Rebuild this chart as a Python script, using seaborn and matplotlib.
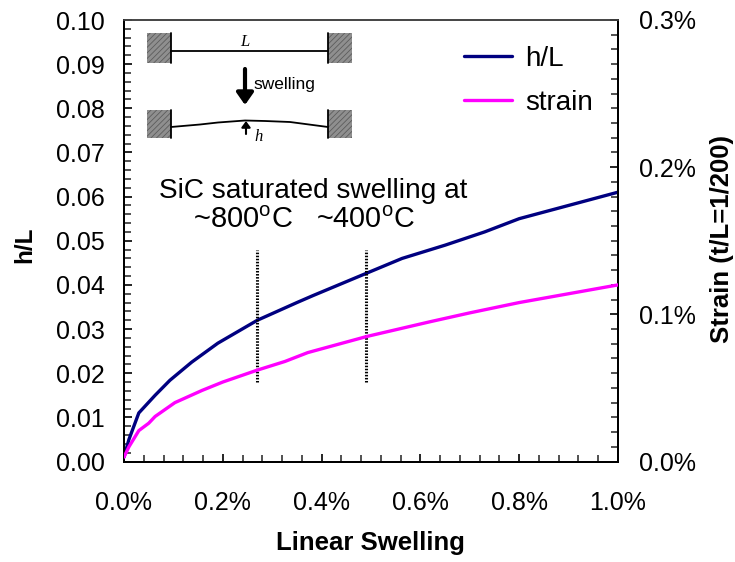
import numpy as np
import pandas as pd
import matplotlib
matplotlib.use('Agg')
import matplotlib.pyplot as plt
from matplotlib.lines import Line2D
from matplotlib.patches import Rectangle
from matplotlib.ticker import FuncFormatter, MultipleLocator
import seaborn as sns

# values
swelling_hl = [0.0, 0.01, 0.03, 0.063, 0.093, 0.137, 0.19, 0.27, 0.35, 0.383, 0.49, 0.563, 0.65, 0.73, 0.80, 0.90, 1.00]
h_over_l = [0.001, 0.005, 0.011, 0.015, 0.0184, 0.0225, 0.0268, 0.032, 0.0360, 0.0376, 0.0426, 0.0460, 0.0490, 0.0520, 0.0550, 0.0580, 0.0610]
swelling_strain = [0.0, 0.01, 0.03, 0.05, 0.063, 0.103, 0.158, 0.20, 0.269, 0.326, 0.372, 0.492, 0.62, 0.70, 0.80, 0.90, 1.00]
strain_pct = [0.003, 0.010, 0.021, 0.026, 0.0306, 0.040, 0.0483, 0.054, 0.062, 0.068, 0.074, 0.085, 0.095, 0.101, 0.108, 0.114, 0.120]
saturation_x = [0.27, 0.49]
saturation_y = [0.018, 0.048]

sns.set_theme(style='ticks')
plt.rcParams['font.family'] = ['Liberation Sans', 'DejaVu Sans']
plt.rcParams['text.color'] = 'black'
plt.rcParams['mathtext.fontset'] = 'custom'
plt.rcParams['mathtext.rm'] = 'Liberation Sans'
plt.rcParams['mathtext.default'] = 'regular'
plt.rcParams['hatch.linewidth'] = 0.6

df_hl = pd.DataFrame({'swelling': swelling_hl, 'value': h_over_l})
df_strain = pd.DataFrame({'swelling': swelling_strain, 'value': strain_pct})

fig = plt.figure(figsize=(7.35, 5.62), dpi=100)
ax = fig.add_axes([124 / 735, 1 - 461.5 / 562, 494 / 735, 441.5 / 562])
ax2 = ax.twinx()

sns.lineplot(data=df_hl, x='swelling', y='value', ax=ax, color='#000080', lw=2.4, zorder=3)
sns.lineplot(data=df_strain, x='swelling', y='value', ax=ax2, color='#FF00FF', lw=2.4, zorder=3)

for x0 in saturation_x:
    ax.plot([x0, x0], saturation_y, color='black', lw=2.2, ls=(0, (0.5, 0.5)), zorder=4)

ax.set_xlim(0, 1.0)
ax.set_ylim(0, 0.10)
ax2.set_ylim(0, 0.3)

ax.xaxis.set_major_locator(MultipleLocator(0.2))
ax.xaxis.set_minor_locator(MultipleLocator(0.04))
ax.yaxis.set_major_locator(MultipleLocator(0.01))
ax.yaxis.set_minor_locator(MultipleLocator(0.002))
ax2.yaxis.set_major_locator(MultipleLocator(0.1))
ax2.yaxis.set_minor_locator(MultipleLocator(0.01))
ax.xaxis.set_major_formatter(FuncFormatter(lambda v, p: f'{v:.1f}%'))
ax.yaxis.set_major_formatter(FuncFormatter(lambda v, p: f'{v:.2f}'))
ax2.yaxis.set_major_formatter(FuncFormatter(lambda v, p: f'{v:.1f}%'))

ax.tick_params(axis='x', which='major', direction='in', length=6, width=1.2, pad=21.5, labelsize=18, colors='black')
ax.tick_params(axis='y', which='major', direction='in', length=6, width=1.2, pad=14, labelsize=18, colors='black')
ax.tick_params(which='minor', direction='in', length=5, width=1.1, color='#222222')
ax2.tick_params(axis='y', which='major', direction='in', length=6, width=1.2, pad=15, labelsize=18, colors='black')
ax2.tick_params(which='minor', direction='in', length=5, width=1.1, color='#222222')

for a in (ax, ax2):
    for side in a.spines:
        a.spines[side].set_visible(True)
        a.spines[side].set_color('black')
        a.spines[side].set_linewidth(1.4)
    a.spines['top'].set_color('#444444')
    a.spines['top'].set_linewidth(1.2)

ax.set_xlabel('')
ax.set_ylabel('')
ax2.set_ylabel('')
fig.text(370 / 735, 1 - 543 / 562, 'Linear Swelling', fontsize=18.5, fontweight='bold', ha='center', va='center')
fig.text(25 / 735, 1 - 245 / 562, 'h/L', fontsize=17.5, fontweight='bold', rotation=90, ha='center', va='center')
fig.text(722 / 735, 1 - 239 / 562, 'Strain (t/L=1/200)', fontsize=18.5, fontweight='bold', rotation=90, ha='center', va='center')

# overlay in pixel coordinates for the sketch and the notes
ov = fig.add_axes([0, 0, 1, 1], zorder=5)
ov.set_xlim(0, 735)
ov.set_ylim(562, 0)
ov.axis('off')
ov.patch.set_alpha(0)

for x0, y0, h in [(147, 33, 30), (328, 33, 30), (147, 110, 28), (328, 110, 28)]:
    ov.add_patch(Rectangle((x0, y0), 24, h, facecolor='#8f8f8f', edgecolor='#5c5c5c', hatch='//////', lw=0))
ov.plot([171, 171], [33, 63], color='black', lw=1.3)
ov.plot([328, 328], [33, 63], color='black', lw=1.3)
ov.plot([171, 171], [110, 138], color='black', lw=1.3)
ov.plot([328, 328], [110, 138], color='black', lw=1.3)
ov.plot([171, 328], [51, 51], color='black', lw=1.3)
ov.plot([171, 200, 218, 245, 265, 290, 328], [127, 124.5, 122.5, 120.5, 121, 122, 127], color='black', lw=1.3)
ov.annotate('', xy=(245, 105), xytext=(245, 69),
            arrowprops=dict(arrowstyle='-|>,head_width=0.42,head_length=0.6', color='black', lw=3, shrinkA=0, shrinkB=0))
ov.annotate('', xy=(246, 121), xytext=(246, 134),
            arrowprops=dict(arrowstyle='-|>,head_width=0.22,head_length=0.3', color='black', lw=1.5, shrinkA=0, shrinkB=0))
ov.text(245, 42, 'L', family='Liberation Serif', style='italic', fontsize=12, ha='center', va='center')
ov.text(259, 137, 'h', family='Liberation Serif', style='italic', fontsize=12, ha='center', va='center')
ov.text(253, 85, 'swelling', fontsize=12.5, ha='left', va='center')

ov.text(159, 191, 'SiC saturated swelling at', fontsize=20.2, ha='left', va='center')
ov.text(193, 220, r'~800$^{o}$C', fontsize=21, ha='left', va='center')
ov.text(316, 220, r'~400$^{o}$C', fontsize=20.7, ha='left', va='center')

# legend drawn from the two line colours
handles = [Line2D([0], [0], color='#000080', lw=2.4), Line2D([0], [0], color='#FF00FF', lw=2.4)]
ov.legend(handles, ['h/L', 'strain'], loc='upper left', bbox_to_anchor=(464 / 735, 1 - 46 / 562),
          frameon=False, fontsize=20, handlelength=1.73, handletextpad=0.47, labelspacing=0.63,
          borderpad=0, borderaxespad=0)

fig.savefig('out.png', dpi=100)
